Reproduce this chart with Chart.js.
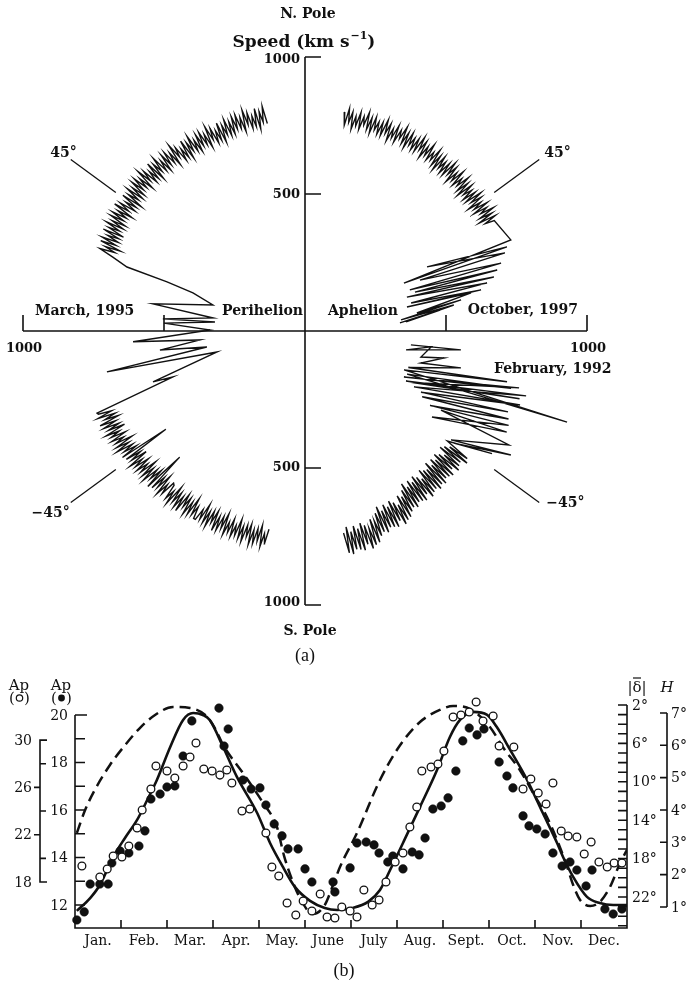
<!DOCTYPE html>
<html>
<head>
<meta charset="utf-8">
<script src="https://cdn.jsdelivr.net/npm/chart.js@4.4.1/dist/chart.umd.min.js"></script>
<style>
  html, body { margin: 0; padding: 0; background: #fff; }
  body { width: 688px; height: 982px; position: relative; overflow: hidden; }
  canvas { position: absolute; left: 0; }
  #polar { top: 0; }
  #season { top: 665px; }
</style>
</head>
<body>
<canvas id="polar" width="688" height="665"></canvas>
<canvas id="season" width="688" height="317"></canvas>
<script>
// ===== COMMON =====
const INK = '#111';
const SERIF = '"DejaVu Serif", "Liberation Serif", serif';

// ===== PANEL (a) DATA: solar wind speed (km/s) vs heliolatitude (deg) =====
const speedTicks = [500, 1000];
const markerAngle = 37;            // slant the ±45° guide lines are drawn at
const markerSpeed = [840, 1040];

// fast latitude scan around perihelion (left half), south pole -> north pole
const scanLat = [
  -80, -79.5, -79, -78.5, -78, -77.5, -77, -76.5, -76, -75.5, -75, -74.5, -74, -73.5, -73, -72.5, -72, -71.5, -71, -70.5,
  -70, -69.5, -69, -68.5, -68, -67.5, -67, -66.5, -66, -65.5, -65, -64.5, -64, -63.5, -63, -62.5, -62, -61.5, -61, -60.5,
  -60, -59.5, -59, -58.5, -58, -57.5, -57, -56.5, -56, -55.5, -55, -54.5, -54, -53.5, -53, -52.5, -52, -51.5, -51, -50.5,
  -50, -49.5, -49, -48.5, -48, -47.5, -47, -46.5, -46, -45.5, -45, -44.5, -44, -43.5, -43, -42.5, -42, -41.5, -41, -40.5,
  -40, -39.5, -39, -38.5, -38, -37.5, -37, -36.5, -36, -35.5,
  -35, -34.5, -34, -33.5, -33, -32.5, -32, -31.5, -31, -30.5, -30, -29.5, -29, -28.5, -28, -27.5, -27, -26.5, -26, -25.5,
  -25, -24.5, -24, -23.5, -23, -22.5,
  -22.1, -19.7, -19.0, -13.8, -12.0, -9.5, -7.7, -5.0, -3.7, 0.6, 3.3, 5.9, 5.0, 8.3, 10.4, 16.2, 19.3, 20.1, 20.3, 21.6,
  22.5, 23, 23.5, 24, 24.5, 25,
  25.5, 26, 26.5, 27, 27.5, 28, 28.5, 29, 29.5, 30,
  30.5, 31, 31.5, 32, 32.5, 33, 33.5, 34, 34.5, 35, 35.5, 36, 36.5, 37, 37.5, 38, 38.5, 39, 39.5, 40,
  40.5, 41, 41.5, 42, 42.5, 43, 43.5, 44, 44.5, 45, 45.5, 46, 46.5, 47, 47.5, 48, 48.5, 49, 49.5, 50,
  50.5, 51, 51.5, 52, 52.5, 53, 53.5, 54, 54.5, 55,
  55.5, 56, 56.5, 57, 57.5, 58, 58.5, 59, 59.5, 60, 60.5, 61, 61.5, 62, 62.5, 63, 63.5, 64, 64.5, 65,
  65.5, 66, 66.5, 67, 67.5, 68, 68.5, 69, 69.5, 70,
  70.5, 71, 71.5, 72, 72.5, 73, 73.5, 74, 74.5, 75, 75.5, 76, 76.5, 77, 77.5, 78, 78.5, 79, 79.5, 80,
];
const scanSpeed = [
  735, 790, 753, 803, 725, 785, 740, 798, 747, 805, 730, 779, 737, 801, 745, 793, 723, 787, 750, 795,
  730, 785, 748, 798, 720, 780, 735, 793, 742, 800, 725, 774, 732, 796, 740, 788, 718, 782, 745, 790,
  790, 745, 782, 718, 788, 740, 796, 732, 774, 725, 800, 742, 793, 735, 780, 720, 798, 748, 785, 730,
  725, 780, 743, 793, 715, 775, 730, 788, 640, 795, 720, 769, 727, 791, 735, 783, 713, 777, 740, 785,
  725, 780, 743, 793, 715, 775, 730, 788, 610, 795,
  730, 779, 737, 801, 745, 793, 723, 787, 750, 795, 735, 790, 753, 803, 725, 785, 740, 798, 747, 805,
  730, 779, 737, 801, 745, 793,
  796, 497, 570, 321, 718, 353, 519, 374, 611, 337, 501, 321, 506, 329, 548, 340, 421, 521, 673, 733,
  787, 733, 773, 717, 796, 740,
  797, 737, 782, 741, 806, 729, 792, 752, 809, 744,
  793, 743, 808, 758, 810, 756, 796, 740, 819, 763, 805, 745, 790, 749, 814, 737, 800, 760, 817, 752,
  805, 755, 820, 770, 822, 768, 808, 752, 831, 775, 817, 757, 802, 761, 826, 749, 812, 772, 829, 764,
  805, 755, 820, 770, 822, 768, 808, 752, 831, 775,
  812, 752, 797, 756, 821, 744, 807, 767, 824, 759, 800, 750, 815, 765, 817, 763, 803, 747, 826, 770,
  812, 752, 797, 756, 821, 744, 807, 767, 824, 759,
  810, 760, 825, 775, 827, 773, 813, 757, 836, 780, 822, 762, 807, 766, 831, 754, 817, 777, 834, 769,
];

// February 1992 -> south pole (right half, below)
const southLat = [
  -7.7, -7.1, -10.9, -7.4, -13.0, -11.3, -15.9, -13.7,
  -20.0, -14.5, -22.0, -19.7, -23.5, -16.0, -25.6, -15.3, -26.5, -18.0, -27.0, -16.8,
  -27.8, -19.5, -28.5, -22.3, -30.0, -24.0, -31.5, -25.5, -34.9, -27.3, -30.9, -29.9, -37.5, -31.8, -37.8, -34.0,
  -38.5, -39, -39.5, -40, -40.5, -41, -41.5, -42, -42.5, -43, -43.5, -44, -44.5, -45, -45.5, -46, -46.5, -47, -47.5, -48,
  -48.5, -49, -49.5, -50,
  -50.5, -51, -51.5, -52, -52.5, -53, -53.5, -54, -54.5, -55, -55.5, -56, -56.5, -57, -57.5, -58, -58.5, -59, -59.5, -60,
  -60.5, -61, -61.5, -62, -62.5, -63, -63.5, -64, -64.5, -65, -65.5, -66, -66.5, -67, -67.5, -68, -68.5, -69, -69.5, -70,
  -70.5, -71, -71.5, -72, -72.5, -73, -73.5, -74, -74.5, -75, -75.5, -76, -76.5, -77, -77.5, -78, -78.5, -79, -79.5,
];
const southSpeed = [
  379, 557, 365, 451, 422, 503, 427, 569,
  390, 740, 379, 987, 395, 760, 389, 787, 420, 800, 402, 819,
  437, 809, 468, 778, 480, 790, 520, 800, 549, 805, 562, 834, 653, 859, 668, 800,
  645, 740, 665, 750, 650, 730, 640, 735, 670, 745, 655, 725, 643, 743, 660, 737, 647, 733, 665, 747,
  645, 740, 665, 750,
  660, 740, 650, 745, 680, 755, 665, 735, 653, 753, 670, 747, 657, 743, 675, 757, 655, 750, 675, 760,
  695, 775, 685, 780, 715, 790, 700, 770, 688, 788, 705, 782, 692, 778, 710, 792, 690, 785, 710, 795,
  735, 815, 725, 820, 755, 830, 740, 810, 728, 828, 745, 822, 732, 818, 750, 832, 730, 825, 750,
];

// north pole -> October 1997 (right half, above)
const northLat = [
  80, 79.5, 79, 78.5, 78, 77.5, 77, 76.5, 76, 75.5, 75, 74.5, 74, 73.5, 73, 72.5, 72, 71.5, 71, 70.5,
  70, 69.5, 69, 68.5, 68, 67.5, 67, 66.5, 66, 65.5, 65, 64.5, 64, 63.5, 63, 62.5, 62, 61.5, 61, 60.5,
  60, 59.5, 59, 58.5, 58, 57.5, 57, 56.5, 56, 55.5,
  55, 54.5, 54, 53.5, 53, 52.5, 52, 51.5, 51, 50.5, 50, 49.5, 49, 48.5, 48, 47.5, 47, 46.5, 46, 45.5,
  45, 44.5, 44, 43.5, 43, 42.5, 42, 41.5, 41, 40.5, 40, 39.5, 39, 38.5, 38, 37.5, 37, 36.5, 36, 35.5,
  35, 34.5, 34, 33.5, 33, 32.5, 32, 31.5, 31,
  24.5, 26.5, 23.2, 28.4, 21.9, 24.5, 19.6, 22.0, 18.1, 20.0, 16.4, 18.9,
  15.2, 15.2, 13.5, 13.6, 13.3, 9.4, 11.6, 6.8, 10.2, 5.3, 9.1, 5.0,
];
const northSpeed = [
  812, 764, 827, 777, 817, 754, 804, 770, 822, 760, 810, 780, 830, 767, 814, 757, 820, 774, 807, 762,
  810, 762, 825, 775, 815, 752, 802, 768, 820, 758, 808, 778, 828, 765, 812, 755, 818, 772, 805, 760,
  810, 762, 825, 775, 815, 752, 802, 768, 820, 758,
  796, 766, 816, 753, 800, 743, 806, 760, 793, 748, 798, 750, 813, 763, 803, 740, 790, 756, 808, 746,
  786, 756, 806, 743, 790, 733, 796, 750, 783, 738, 788, 740, 803, 753, 793, 730, 780, 746, 798, 736,
  786, 756, 806, 743, 790, 733, 796, 750, 783,
  802, 392, 779, 492, 764, 448, 738, 401, 717, 415, 698, 382,
  669, 390, 642, 372, 605, 402, 565, 343, 536, 360, 485, 338,
];

// ===== PANEL (b) DATA: seasonal variation =====
const monthLabels = ['Jan.', 'Feb.', 'Mar.', 'Apr.', 'May.', 'June', 'July', 'Aug.', 'Sept.', 'Oct.', 'Nov.', 'Dec.'];
const apDotTicks = [12, 13, 14, 15, 16, 17, 18, 19, 20];
const apOpenTicks = [18, 20, 22, 24, 26, 28, 30];
const declTicks = [2, 3, 4, 5, 6, 7, 8, 9, 10, 11, 12, 13, 14, 15, 16, 17, 18, 19, 20, 21, 22, 23, 24, 25];
const hTicks = [1, 2, 3, 4, 5, 6, 7];
const apDotRange = [11.03, 20.63];
const apOpenRange = [14.11, 33.39];
const declRange = [1.48, 25.23];
const hRange = [0.35, 7.40];

// solid curve (Ap ● scale)
const solidM = [0.04, 0.33, 0.54, 0.83, 1.09, 1.35, 1.57, 1.78, 2.07, 2.35, 2.57, 2.78, 2.93, 3.22, 3.52, 3.96, 4.24, 4.52, 4.78, 5.11,
  5.43, 5.70, 6.02, 6.37, 6.63, 6.85, 7.13, 7.50, 7.87, 8.15, 8.37, 8.65, 8.96, 9.17, 9.46, 9.83, 10.17, 10.48, 10.61, 10.83,
  11.13, 11.41, 11.70, 12.0];
const solidAp = [11.75, 12.29, 12.84, 14.02, 14.83, 15.58, 16.42, 17.26, 18.65, 19.79, 20.08, 20.0, 19.79, 18.65, 17.39, 15.87, 14.61, 13.60, 12.76, 12.17,
  11.87, 11.79, 11.87, 12.13, 12.63, 13.47, 14.61, 16.13, 17.68, 19.07, 19.79, 20.13, 20.0, 19.49, 18.53, 17.26, 15.87, 14.61, 14.02, 13.18,
  12.34, 12.08, 12.0, 12.0];

// dashed curve (|δ| scale)
const dashM = [0.04, 0.22, 0.43, 0.76, 1.09, 1.41, 1.74, 2.13, 2.50, 2.83, 3.04, 3.22, 3.65, 4.09, 4.39, 4.54, 4.72, 4.89, 5.17, 5.43,
  5.61, 5.76, 6.13, 6.63, 7.07, 7.50, 7.93, 8.22, 8.59, 9.02, 9.30, 9.67, 9.96, 10.26, 10.54, 10.70, 10.83, 10.98, 11.20, 11.41,
  11.63, 11.85, 12.0];
const dashDecl = [15.33, 12.94, 10.85, 8.25, 6.17, 4.40, 3.04, 2.21, 2.31, 3.04, 4.40, 6.17, 9.08, 12.21, 14.71, 17.63, 20.23, 22.10, 23.77, 22.83,
  20.75, 18.88, 15.33, 9.81, 6.17, 3.77, 2.52, 2.10, 2.42, 4.29, 6.38, 8.77, 11.17, 13.67, 16.79, 18.88, 20.75, 22.31, 22.94, 22.52,
  20.96, 18.46, 17.10];

// open circles (Ap ○ scale)
const openM = [0.15, 0.54, 0.70, 0.83, 1.02, 1.17, 1.35, 1.46, 1.65, 1.76, 2.00, 2.17, 2.35, 2.50, 2.63, 2.80, 2.98, 3.15, 3.30, 3.41,
  3.63, 3.80, 4.15, 4.28, 4.43, 4.61, 4.80, 4.96, 5.15, 5.33, 5.48, 5.65, 5.80, 5.98, 6.13, 6.28, 6.46, 6.61, 6.76, 6.96,
  7.13, 7.28, 7.43, 7.54, 7.74, 7.89, 8.02, 8.22, 8.39, 8.57, 8.72, 8.87, 9.09, 9.22, 9.54, 9.74, 9.91, 10.07, 10.24, 10.39,
  10.57, 10.72, 10.91, 11.07, 11.22, 11.39, 11.57, 11.72, 11.89];
const openAp = [19.35, 18.42, 19.10, 20.20, 20.11, 21.04, 22.56, 24.09, 25.86, 27.81, 27.38, 26.79, 27.81, 28.57, 29.75, 27.55, 27.38, 27.04, 27.47, 26.37,
  24.00, 24.17, 22.14, 19.27, 18.51, 16.22, 15.21, 16.39, 15.55, 16.99, 15.04, 14.96, 15.89, 15.55, 15.04, 17.32, 16.06, 16.48, 18.0, 19.69,
  20.45, 22.65, 24.34, 27.38, 27.72, 27.97, 29.07, 31.95, 32.12, 32.37, 33.22, 31.61, 32.03, 29.50, 29.41, 25.86, 26.71, 25.52, 24.59, 26.37,
  22.31, 21.89, 21.80, 20.37, 21.38, 19.69, 19.27, 19.61, 19.61];

// filled circles (Ap ● scale)
const dotM = [0.04, 0.20, 0.33, 0.54, 0.72, 0.80, 0.98, 1.17, 1.39, 1.52, 1.65, 1.85, 2.00, 2.17, 2.35, 2.54, 3.13, 3.33, 3.24, 3.65,
  3.83, 4.02, 4.15, 4.33, 4.50, 4.63, 4.85, 5.00, 5.15, 5.61, 5.65, 5.98, 6.13, 6.33, 6.50, 6.61, 6.80, 6.91, 7.13, 7.33,
  7.48, 7.61, 7.78, 7.96, 8.11, 8.28, 8.43, 8.57, 8.74, 8.89, 9.22, 9.39, 9.52, 9.74, 9.87, 10.04, 10.22, 10.39, 10.59, 10.76,
  10.91, 11.24, 11.11, 11.52, 11.70, 11.89];
const dotAp = [11.37, 11.71, 12.88, 12.88, 12.88, 13.77, 14.27, 14.19, 14.48, 15.12, 16.46, 16.67, 16.97, 17.01, 18.27, 19.75, 20.29, 19.41, 18.69, 17.26,
  16.88, 16.93, 16.21, 15.41, 14.91, 14.36, 14.36, 13.52, 12.97, 12.97, 12.55, 13.56, 14.61, 14.65, 14.53, 14.19, 13.81, 14.06, 13.52, 14.23,
  14.11, 14.82, 16.04, 16.17, 16.51, 17.64, 18.91, 19.45, 19.16, 19.41, 18.02, 17.43, 16.93, 15.75, 15.33, 15.20, 14.99, 14.19, 13.64, 13.81,
  13.47, 13.47, 12.80, 11.83, 11.62, 11.83];

// ===== HELPERS =====
function polarPoints(lat, speed, side) {
  return lat.map((l, i) => {
    const r = l * Math.PI / 180;
    return { x: side * speed[i] * Math.cos(r), y: speed[i] * Math.sin(r) };
  });
}
const pairs = (xs, ys) => xs.map((v, i) => ({ x: v, y: ys[i] }));

function text(ctx, s, x, y, font, align = 'left', base = 'alphabetic') {
  ctx.font = font;
  ctx.textAlign = align;
  ctx.textBaseline = base;
  ctx.fillText(s, x, y);
}

// ===== PANEL (a) AXES + LABELS =====
const polarAxes = {
  id: 'polarAxes',
  afterDraw(chart) {
    const { ctx, scales: { x, y } } = chart;
    const px = (v) => x.getPixelForValue(v);
    const py = (v) => y.getPixelForValue(v);
    const x0 = px(0), y0 = py(0);
    ctx.save();
    ctx.strokeStyle = INK;
    ctx.fillStyle = INK;
    ctx.lineWidth = 1.6;
    ctx.beginPath();
    ctx.moveTo(x0, py(1000)); ctx.lineTo(x0, py(-1000));
    ctx.moveTo(px(-1000), y0); ctx.lineTo(px(1000), y0);
    speedTicks.forEach((v) => {
      [v, -v].forEach((s) => {
        ctx.moveTo(x0, py(s)); ctx.lineTo(x0 + 16, py(s));
        ctx.moveTo(px(s), y0); ctx.lineTo(px(s), y0 - 16);
      });
    });
    ctx.stroke();

    const num = `bold 13px ${SERIF}`;
    speedTicks.forEach((v) => {
      text(ctx, String(v), x0 - 5, py(v) + (v === 1000 ? 3 : 1), num, 'right', 'middle');
      text(ctx, String(v), x0 - 5, py(-v) - (v === 1000 ? 2 : 0), num, 'right', 'middle');
    });
    text(ctx, '1000', px(-1000) + 1, y0 + 21, num, 'center');
    text(ctx, '1000', px(1000) + 1, y0 + 21, num, 'center');

    const lab = `bold 14px ${SERIF}`;
    text(ctx, 'N. Pole', 308, 18, lab, 'center');
    text(ctx, 'S. Pole', 310, 635, lab, 'center');
    text(ctx, 'March, 1995', 35, 315, lab);
    text(ctx, 'Perihelion', 303, 315, lab, 'right');
    text(ctx, 'Aphelion', 328, 315, lab);
    text(ctx, 'October, 1997', 578, 314, lab, 'right');
    text(ctx, 'February, 1992', 494, 373, lab);

    // guide labels at the outer end of each marker line
    const r = markerAngle * Math.PI / 180, m = markerSpeed[1];
    const ex = (side) => px(side * m * Math.cos(r));
    const ey = (sign) => py(sign * m * Math.sin(r));
    text(ctx, '45°', ex(-1) + 6, ey(1) - 3, lab, 'right');
    text(ctx, '45°', ex(1) + 5, ey(1) - 3, lab);
    text(ctx, '\u221245°', ex(-1) - 1, ey(-1) + 15, lab, 'right');
    text(ctx, '\u221245°', ex(1) + 7, ey(-1) + 5, lab);

    // title with superscript
    const big = `bold 17px ${SERIF}`, sup = `bold 11px ${SERIF}`;
    ctx.font = big; const w1 = ctx.measureText('Speed (km s').width;
    ctx.font = sup; const w2 = ctx.measureText('\u22121').width;
    ctx.font = big; const w3 = ctx.measureText(')').width;
    const tx = 304 - (w1 + w2 + w3 + 1) / 2;
    text(ctx, 'Speed (km s', tx, 47, big);
    text(ctx, '\u22121', tx + w1 + 1, 39, sup);
    text(ctx, ')', tx + w1 + w2 + 1, 47, big);

    text(ctx, '(a)', 305, 661, `18px "Liberation Serif", serif`, 'center');
    ctx.restore();
  },
};

const trace = { type: 'line', borderColor: INK, borderWidth: 1.4, pointRadius: 0, tension: 0, fill: false };
const markerSets = [[-1, 1], [1, 1], [-1, -1], [1, -1]].map(([side, sign]) => ({
  ...trace,
  borderWidth: 1.3,
  data: polarPoints([sign * markerAngle, sign * markerAngle], markerSpeed, side),
}));

new Chart(document.getElementById('polar'), {
  type: 'scatter',
  data: {
    datasets: [
      { ...trace, data: polarPoints(scanLat, scanSpeed, -1) },
      { ...trace, data: polarPoints(southLat, southSpeed, 1) },
      { ...trace, data: polarPoints(northLat, northSpeed, 1) },
      ...markerSets,
    ],
  },
  options: {
    responsive: false,
    animation: false,
    devicePixelRatio: 1,
    layout: { padding: { left: 23, right: 101, top: 57, bottom: 60 } },
    scales: {
      x: { type: 'linear', min: -1000, max: 1000, display: false },
      y: { type: 'linear', min: -1000, max: 1000, display: false },
    },
    plugins: { legend: { display: false }, tooltip: { enabled: false } },
  },
  plugins: [polarAxes],
});

// ===== PANEL (b) AXES + LABELS =====
const seasonAxes = {
  id: 'seasonAxes',
  afterDraw(chart) {
    const { ctx, chartArea: a } = chart;
    const { x, yDot, yOpen, yDecl, yH } = chart.scales;
    ctx.save();
    ctx.strokeStyle = INK;
    ctx.fillStyle = INK;
    ctx.lineWidth = 1.6;
    const f = `14px ${SERIF}`;

    // frame: inner Ap(●) axis, month axis, |δ| axis
    ctx.beginPath();
    ctx.moveTo(a.left, yDot.getPixelForValue(20));
    ctx.lineTo(a.left, a.bottom);
    ctx.lineTo(a.right, a.bottom);
    ctx.lineTo(a.right, yDecl.getPixelForValue(2));
    apDotTicks.forEach((v) => {
      const p = yDot.getPixelForValue(v);
      ctx.moveTo(a.left, p); ctx.lineTo(a.left + (v === 20 ? 12 : 10), p);
    });
    for (let i = 1; i < monthLabels.length; i++) {
      const p = x.getPixelForValue(i);
      ctx.moveTo(p, a.bottom); ctx.lineTo(p, a.bottom - 8);
    }
    declTicks.forEach((v) => {
      const p = yDecl.getPixelForValue(v);
      ctx.moveTo(a.right, p); ctx.lineTo(a.right - 9, p);
    });
    ctx.stroke();

    apDotTicks.filter((v) => v % 2 === 0).forEach((v) => {
      text(ctx, String(v), a.left - 7, yDot.getPixelForValue(v) + 1, f, 'right', 'middle');
    });
    declTicks.filter((v) => v % 4 === 2).forEach((v) => {
      text(ctx, v + '°', a.right + 5, yDecl.getPixelForValue(v) + 1, f, 'left', 'middle');
    });
    monthLabels.forEach((m, i) => {
      text(ctx, m, x.getPixelForValue(i + 0.5), a.bottom + 17, f, 'center');
    });

    // outer Ap(○) axis
    const ox = a.left - 35;
    const oTop = yOpen.getPixelForValue(30), oBot = yOpen.getPixelForValue(18);
    ctx.beginPath();
    ctx.moveTo(ox + 7, oTop); ctx.lineTo(ox, oTop); ctx.lineTo(ox, oBot); ctx.lineTo(ox + 7, oBot);
    apOpenTicks.forEach((v) => {
      const p = yOpen.getPixelForValue(v);
      if (v % 4 === 0) { ctx.moveTo(ox, p); ctx.lineTo(ox + 6, p); }
      else if (v !== 30 && v !== 18) { ctx.moveTo(ox, p); ctx.lineTo(ox - 6, p); }
    });
    ctx.stroke();
    apOpenTicks.filter((v) => v % 4 === 2).forEach((v) => {
      text(ctx, String(v), ox - 8, yOpen.getPixelForValue(v) + 1, f, 'right', 'middle');
    });

    // H axis
    const hx = a.right + 40;
    ctx.beginPath();
    ctx.moveTo(hx, yH.getPixelForValue(7)); ctx.lineTo(hx, yH.getPixelForValue(1));
    hTicks.forEach((v) => {
      const p = yH.getPixelForValue(v);
      ctx.moveTo(hx, p); ctx.lineTo(hx - 7, p);
    });
    ctx.stroke();
    hTicks.forEach((v) => {
      text(ctx, v + '°', hx + 4, yH.getPixelForValue(v) + 1, f, 'left', 'middle');
    });

    // headers
    const hf = `15px ${SERIF}`;
    text(ctx, 'Ap', ox - 21, 25, hf, 'center');
    text(ctx, 'Ap', a.left - 14, 25, hf, 'center');
    text(ctx, '(', ox - 28, 38, hf, 'center');
    text(ctx, ')', ox - 13, 38, hf, 'center');
    text(ctx, '(', a.left - 21, 38, hf, 'center');
    text(ctx, ')', a.left - 6, 38, hf, 'center');
    ctx.lineWidth = 1.2;
    ctx.beginPath(); ctx.arc(ox - 20.5, 33, 3.2, 0, Math.PI * 2); ctx.stroke();
    ctx.beginPath(); ctx.arc(a.left - 13.5, 33, 3.4, 0, Math.PI * 2); ctx.fill();

    text(ctx, '|δ|', a.right + 10, 27, hf, 'center');
    ctx.beginPath(); ctx.moveTo(a.right + 6, 13); ctx.lineTo(a.right + 14, 13); ctx.stroke();
    text(ctx, 'H', hx, 27, `italic 15px ${SERIF}`, 'center');

    text(ctx, '(b)', 344, 311, `18px "Liberation Serif", serif`, 'center');
    ctx.restore();
  },
};

new Chart(document.getElementById('season'), {
  type: 'scatter',
  data: {
    datasets: [
      {
        label: 'Ap (○)', data: pairs(openM, openAp), yAxisID: 'yOpen', order: 0, clip: false,
        pointRadius: 3.9, pointBackgroundColor: '#fff', pointBorderColor: INK, pointBorderWidth: 1.3,
      },
      {
        label: 'Ap (●)', data: pairs(dotM, dotAp), yAxisID: 'yDot', order: 1, clip: false,
        pointRadius: 4.3, pointBackgroundColor: INK, pointBorderColor: INK, pointBorderWidth: 0.5,
      },
      {
        type: 'line', label: '|δ|', data: pairs(dashM, dashDecl), yAxisID: 'yDecl', order: 2,
        borderColor: INK, borderWidth: 2.5, borderDash: [11, 6], pointRadius: 0, fill: false,
        cubicInterpolationMode: 'monotone',
      },
      {
        type: 'line', label: 'fit', data: pairs(solidM, solidAp), yAxisID: 'yDot', order: 3,
        borderColor: INK, borderWidth: 2.6, pointRadius: 0, fill: false,
        cubicInterpolationMode: 'monotone',
      },
    ],
  },
  options: {
    responsive: false,
    animation: false,
    devicePixelRatio: 1,
    layout: { padding: { left: 75, right: 61, top: 35, bottom: 54 } },
    scales: {
      x: { type: 'linear', min: 0, max: 12, display: false },
      yDot: { type: 'linear', min: apDotRange[0], max: apDotRange[1], display: false },
      yOpen: { type: 'linear', min: apOpenRange[0], max: apOpenRange[1], display: false },
      yDecl: { type: 'linear', reverse: true, min: declRange[0], max: declRange[1], display: false },
      yH: { type: 'linear', min: hRange[0], max: hRange[1], display: false },
    },
    plugins: { legend: { display: false }, tooltip: { enabled: false } },
  },
  plugins: [seasonAxes],
});
</script>
</body>
</html>
